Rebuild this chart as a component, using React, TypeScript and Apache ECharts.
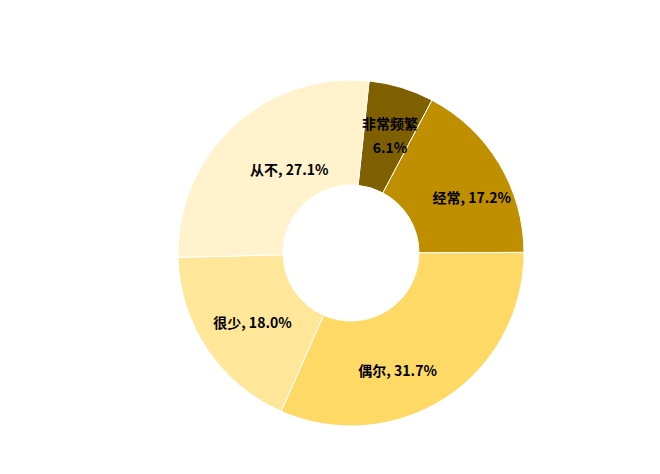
import React, { useEffect, useRef } from "react";
import * as echarts from "echarts";

const categories = ["非常频繁", "经常", "偶尔", "很少", "从不"];
const values = [6.1, 17.2, 31.7, 18.0, 27.1];
const colors = ["#7F6000", "#BF8F00", "#FFD966", "#FFE699", "#FFF2CC"];
// small nudges so the labels sit where the original put them
const labelShift = [
  [3, 0],
  [15, 8],
  [-21, 14],
  [4, 0],
  [22, 7],
];

const App = () => {
  const chartRef = useRef<HTMLDivElement>(null);

  useEffect(() => {
    if (!chartRef.current) return;
    const chart = echarts.init(chartRef.current, undefined, { renderer: "svg" });
    const options: echarts.EChartsOption = {
      animation: false,
      backgroundColor: "#ffffff",
      series: [
        {
          type: "pie",
          center: [351, 253],
          radius: [68, 173],
          startAngle: 84,
          clockwise: true,
          avoidLabelOverlap: false,
          itemStyle: { borderColor: "#ffffff", borderWidth: 1 },
          label: {
            show: true,
            position: "inside",
            color: "#000000",
            fontSize: 14,
            fontWeight: "bold",
            fontFamily: "Noto Sans CJK SC",
            lineHeight: 24,
            formatter: (p: any) =>
              p.dataIndex === 0 ? `${p.name}\n${p.value.toFixed(1)}%` : `${p.name}, ${p.value.toFixed(1)}%`,
          },
          labelLayout: (params: any) => ({
            dx: labelShift[params.dataIndex][0],
            dy: labelShift[params.dataIndex][1],
          }),
          labelLine: { show: false },
          data: categories.map((name, i) => ({
            name,
            value: values[i],
            itemStyle: { color: colors[i] },
          })),
        },
      ],
    };
    chart.setOption(options);
    return () => {
      chart.dispose();
    };
  }, []);

  return (
    <div
      ref={chartRef}
      style={{ position: "fixed", left: 0, top: 0, width: "660px", height: "474px" }}
    />
  );
};

export default App;
